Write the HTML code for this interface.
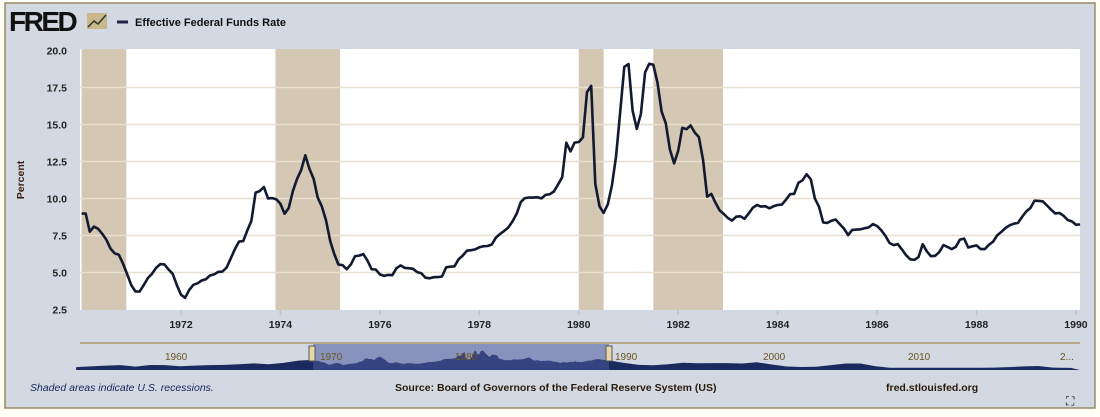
<!DOCTYPE html>
<html><head><meta charset="utf-8"><style>
body{margin:0;width:1100px;height:417px;overflow:hidden;background:#fffef5;font-family:"Liberation Sans",sans-serif;}
</style></head><body>
<svg id="s" width="1100" height="417" style="position:absolute;left:0;top:0">
<rect x="5" y="3" width="1090" height="405" fill="#d3d9e2" stroke="#9a8a6a" stroke-width="1.5"/>
<text x="9" y="31" font-size="28" font-weight="bold" font-family="Liberation Sans" fill="#111" letter-spacing="-2.5">FRED</text>
<rect x="87" y="13" width="20" height="16" fill="#c9b98a"/>
<path d="M88 27 L94 21 L98 24 L106 15" stroke="#333" stroke-width="1.5" fill="none"/>
<line x1="117" y1="22" x2="128" y2="22" stroke="#1b2440" stroke-width="3"/>
<text x="135" y="26" font-size="11" font-weight="bold" fill="#111">Effective Federal Funds Rate</text>
<rect x="80" y="49" width="1000" height="261" fill="#fff"/>
<g id="rec" fill="#d4c7b3"></g>
<g id="grid" stroke="#e8e0d0" stroke-width="1.5"></g>
<g id="ylab" font-size="10.5" font-weight="bold" fill="#222" text-anchor="end"></g>
<g id="xlab" font-size="10.5" font-weight="bold" fill="#222" text-anchor="middle"></g>
<text transform="translate(24,180) rotate(-90)" font-size="10.5" font-weight="bold" fill="#3a1d10" text-anchor="middle">Percent</text>
<path id="line" fill="none" stroke="#111a30" stroke-width="2.6" stroke-linejoin="round"/>
<line x1="80" y1="343" x2="1080" y2="343" stroke="#b8a88a" stroke-width="2"/>
<path id="nav" fill="#1b2a5e"/>
<rect x="313" y="344" width="296" height="26" fill="#4a5a9e" opacity="0.55"/>
<rect x="309" y="346" width="6" height="15" fill="#e6d8a8" stroke="#555"/>
<rect x="606" y="346" width="6" height="15" fill="#e6d8a8" stroke="#555"/>
<g font-size="10" fill="#6a5520"><text x="165" y="360">1960</text><text x="320" y="360">1970</text><text x="455" y="360">1980</text><text x="615" y="360">1990</text><text x="763" y="360">2000</text><text x="908" y="360">2010</text><text x="1060" y="360">2...</text></g>
<text x="30" y="391" font-size="10.5" font-style="italic" fill="#14285a">Shaded areas indicate U.S. recessions.</text>
<text x="395" y="391" font-size="10.5" font-weight="bold" fill="#2a1a0a">Source: Board of Governors of the Federal Reserve System (US)</text>
<text x="886" y="391" font-size="10.5" font-weight="bold" fill="#2a1a0a">fred.stlouisfed.org</text>
<text x="1066" y="405" font-size="12" fill="#111">⛶</text>
</svg>
<script>
var d=[8.98,8.98,7.76,8.10,7.95,7.61,7.21,6.61,6.29,6.20,5.60,4.90,
4.14,3.72,3.71,4.15,4.63,4.91,5.31,5.57,5.55,5.20,4.91,4.14,
3.50,3.29,3.83,4.17,4.27,4.46,4.55,4.80,4.87,5.04,5.06,5.33,
5.94,6.58,7.09,7.12,7.84,8.49,10.40,10.50,10.78,10.01,10.03,9.95,
9.65,8.97,9.35,10.51,11.31,11.93,12.92,12.01,11.34,10.06,9.45,8.53,
7.13,6.24,5.54,5.49,5.22,5.55,6.10,6.14,6.24,5.82,5.22,5.20,
4.87,4.77,4.84,4.82,5.29,5.48,5.31,5.29,5.25,5.03,4.95,4.65,
4.61,4.68,4.69,4.73,5.35,5.39,5.42,5.90,6.14,6.47,6.51,6.56,
6.70,6.78,6.79,6.89,7.36,7.60,7.81,8.04,8.45,8.96,9.76,10.03,
10.07,10.06,10.09,10.01,10.24,10.29,10.47,10.94,11.43,13.77,13.18,13.78,
13.82,14.13,17.19,17.61,10.98,9.47,9.03,9.61,10.87,12.81,15.85,18.90,
19.08,15.93,14.70,15.72,18.52,19.10,19.04,17.82,15.87,15.08,13.31,12.37,
13.22,14.78,14.68,14.94,14.45,14.15,12.59,10.12,10.31,9.71,9.20,8.95,
8.68,8.51,8.77,8.80,8.63,8.98,9.37,9.56,9.45,9.48,9.34,9.47,
9.56,9.59,9.91,10.29,10.32,11.06,11.23,11.64,11.30,9.99,9.43,8.38,
8.35,8.50,8.58,8.27,7.97,7.53,7.88,7.90,7.92,7.99,8.05,8.27,
8.14,7.86,7.48,6.99,6.85,6.92,6.56,6.17,5.89,5.85,6.04,6.91,
6.43,6.10,6.13,6.37,6.85,6.73,6.58,6.73,7.22,7.29,6.69,6.77,
6.83,6.58,6.58,6.87,7.09,7.51,7.75,8.01,8.19,8.30,8.35,8.76,
9.12,9.36,9.85,9.84,9.81,9.53,9.24,8.99,9.02,8.84,8.55,8.45,8.23,8.24];
function X(t){return 181+(t-1972)*49.72}
function Y(v){return 309.5-(v-2.5)*14.8}
var ns="http://www.w3.org/2000/svg";
function el(p,n,a,t){var e=document.createElementNS(ns,n);for(var k in a)e.setAttribute(k,a[k]);if(t)e.textContent=t;document.getElementById(p).appendChild(e);}
[[1970,1970.9],[1973.9,1975.2],[1980.0,1980.5],[1981.5,1982.9]].forEach(function(r){el("rec","rect",{x:Math.max(80,X(r[0])),y:49,width:X(r[1])-Math.max(80,X(r[0])),height:261});});
for(var v=5;v<=17.5;v+=2.5)el("grid","line",{x1:80,x2:1080,y1:Y(v),y2:Y(v)});
for(var v=2.5;v<=20;v+=2.5)el("ylab","text",{x:67,y:Y(v)+4},v.toFixed(1));
for(var yr=1972;yr<=1990;yr+=2){el("xlab","text",{x:X(yr),y:328},yr);el("grid","line",{x1:X(yr),x2:X(yr),y1:310,y2:315,stroke:"#b8c4d8"});}
var p="";d.forEach(function(v,i){p+=(i?"L":"M")+X(1970+i/12).toFixed(1)+" "+Y(v).toFixed(1)+" ";});
document.getElementById("line").setAttribute("d",p);
// navigator
function NX(t){return 313+(t-1970)*14.8}
function NY(v){return 368-v*0.9}
var pre=[[1954,1.0],[1955,1.8],[1956,2.7],[1957,3.2],[1958,1.6],[1959,3.3],[1960,3.2],[1961,1.9],[1962,2.7],[1963,3.2],[1964,3.5],[1965,4.1],[1966,5.1],[1967,4.2],[1968,5.7],[1969,8.2]];
var post=[[1991,5.7],[1992,3.5],[1993,3.0],[1994,4.2],[1995,5.8],[1996,5.3],[1997,5.5],[1998,5.4],[1999,5.0],[2000,6.3],[2001,3.9],[2002,1.7],[2003,1.1],[2004,1.3],[2005,3.2],[2006,5.0],[2007,5.0],[2008,1.9],[2009,0.2],[2015,0.2],[2016,0.4],[2017,1.0],[2018,1.8],[2019,2.2],[2020,0.4],[2021.2,0.1]];
var q="M76 370 ";
pre.forEach(function(a){q+="L"+NX(a[0]).toFixed(1)+" "+NY(a[1]).toFixed(1)+" ";});
d.forEach(function(v,i){q+="L"+NX(1970+i/12).toFixed(1)+" "+NY(v).toFixed(1)+" ";});
post.forEach(function(a){q+="L"+Math.min(1080,NX(a[0])).toFixed(1)+" "+NY(a[1]).toFixed(1)+" ";});
q+="L1080 370 Z";
document.getElementById("nav").setAttribute("d",q);
</script>
</body></html>
